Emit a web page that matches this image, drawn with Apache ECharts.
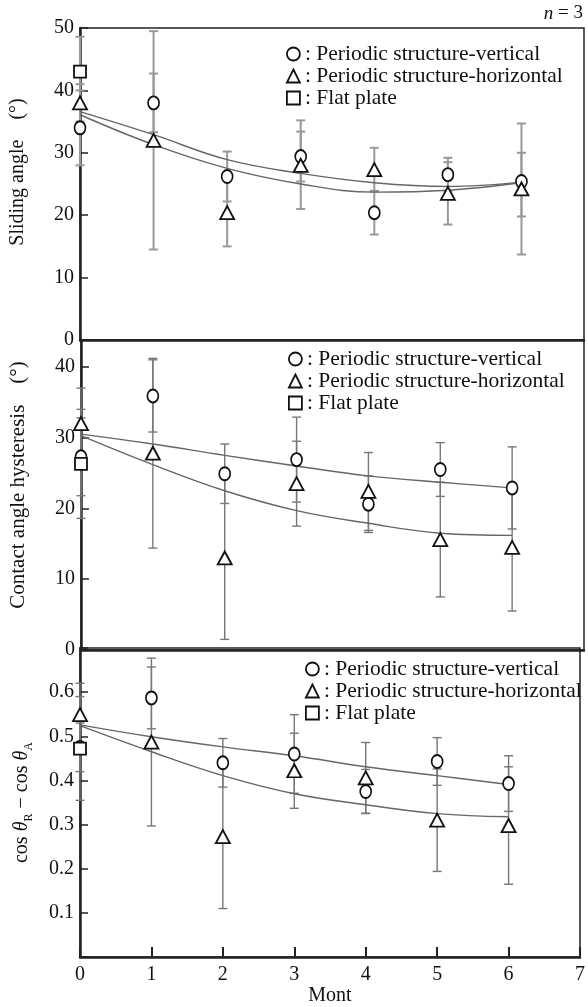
<!DOCTYPE html>
<html>
<head>
<meta charset="utf-8">
<script src="https://cdn.jsdelivr.net/npm/echarts@6/dist/echarts.min.js"></script>
<style>
  html, body { margin: 0; padding: 0; background: #fff; }
  #main { width: 588px; height: 1007px; }
</style>
</head>
<body>
<div id="main"></div>
<script>
const serif = '"Liberation Serif", "DejaVu Serif", serif';

// x values (months)
const months = [0, 1, 2, 3, 4, 5, 6];
const xTickLabels = ['0', '1', '2', '3', '4', '5', '6', '7'];

// panel 1: sliding angle (deg)
const slideVert = [34, 38, 26.2, 29.4, 20.4, 26.5, 25.4];
const slideVertLo = [28, 33.3, 22.2, 25.4, 16.9, 23.8, 19.8];
const slideVertHi = [40, 42.7, 30.2, 33.4, 23.9, 29.2, 30.0];
const slideHori = [38, 32, 20.4, 28, 27.3, 23.5, 24.2];
const slideHoriLo = [35, 14.5, 15, 21, 23.8, 18.5, 13.7];
const slideHoriHi = [41, 49.5, 25.8, 35.2, 30.8, 28.5, 34.7];
const slideFlat = [43];
const slideFlatLo = [37.4];
const slideFlatHi = [48.6];
const slideFitA = [36.6, 32.9, 28.9, 26.7, 25.2, 24.6, 25.3];
const slideFitB = [36.1, 31.3, 27.5, 25.0, 23.7, 24.0, 25.2];

// panel 2: contact angle hysteresis (deg)
const hystVert = [27.3, 35.9, 24.9, 26.9, 20.6, 25.5, 22.9];
const hystVertLo = [21.8, 30.8, 20.7, 20.9, 16.6, 21.7, 17.1];
const hystVertHi = [32.8, 41.0, 29.1, 32.9, 24.6, 29.3, 28.7];
const hystHori = [32, 27.8, 13, 23.5, 22.4, 15.6, 14.5];
const hystHoriLo = [27, 14.4, 1.5, 17.5, 16.9, 7.5, 5.5];
const hystHoriHi = [37, 41.2, 24.5, 29.5, 27.9, 23.7, 23.5];
const hystFlat = [26.3];
const hystFlatLo = [18.6];
const hystFlatHi = [34.0];
const hystFitA = [30.5, 29.1, 27.5, 26.0, 24.6, 23.7, 22.9];
const hystFitB = [30.3, 26.2, 22.5, 19.7, 17.9, 16.5, 16.2];

// panel 3: cos(theta_R) - cos(theta_A)
const cosVert = [0.475, 0.587, 0.44, 0.46, 0.375, 0.443, 0.393];
const cosVertLo = [0.42, 0.517, 0.385, 0.371, 0.325, 0.389, 0.33];
const cosVertHi = [0.53, 0.657, 0.495, 0.549, 0.425, 0.497, 0.456];
const cosHori = [0.549, 0.487, 0.273, 0.422, 0.406, 0.31, 0.298];
const cosHoriLo = [0.48, 0.297, 0.11, 0.337, 0.326, 0.194, 0.165];
const cosHoriHi = [0.62, 0.677, 0.436, 0.507, 0.486, 0.426, 0.431];
const cosFlat = [0.472];
const cosFlatLo = [0.355];
const cosFlatHi = [0.59];
const cosFitA = [0.526, 0.499, 0.476, 0.456, 0.431, 0.411, 0.391];
const cosFitB = [0.524, 0.465, 0.411, 0.370, 0.345, 0.325, 0.318];

const NAME_V = 'Periodic structure-vertical';
const NAME_H = 'Periodic structure-horizontal';
const NAME_F = 'Flat plate';

const pair = (vals) => vals.map((v, i) => [months[i], v]);

// vertical error bar with caps, drawn through the axis scale
function errorBars(idx, lo, hi, color, width) {
  return {
    type: 'custom',
    xAxisIndex: idx,
    yAxisIndex: idx,
    silent: true,
    z: 1,
    encode: { x: 0, y: [1, 2] },
    data: lo.map((l, i) => [months[i], l, hi[i]]),
    renderItem: (params, api) => {
      const x = api.value(0);
      const top = api.coord([x, api.value(2)]);
      const bot = api.coord([x, api.value(1)]);
      const hw = 4.5;
      const style = { stroke: color, lineWidth: width };
      return {
        type: 'group',
        children: [
          { type: 'line', shape: { x1: top[0], y1: top[1], x2: bot[0], y2: bot[1] }, style },
          { type: 'line', shape: { x1: top[0] - hw, y1: top[1], x2: top[0] + hw, y2: top[1] }, style },
          { type: 'line', shape: { x1: bot[0] - hw, y1: bot[1], x2: bot[0] + hw, y2: bot[1] }, style }
        ]
      };
    }
  };
}

function fitLine(idx, vals, color, width) {
  return {
    type: 'line',
    name: 'fit',
    xAxisIndex: idx,
    yAxisIndex: idx,
    data: pair(vals),
    smooth: 0.4,
    symbol: 'none',
    silent: true,
    z: 2,
    lineStyle: { color: color, width: width }
  };
}

function markers(idx, name, vals, symbol, size) {
  return {
    type: 'scatter',
    name: name,
    xAxisIndex: idx,
    yAxisIndex: idx,
    data: pair(vals),
    symbol: symbol,
    symbolSize: size,
    clip: false,
    z: 5,
    itemStyle: { color: '#fff', borderColor: '#111', borderWidth: 1.8, opacity: 1 }
  };
}

function panelSeries(idx, d, barColor, barWidth, lineColor) {
  return [
    errorBars(idx, d.vLo, d.vHi, barColor, barWidth),
    errorBars(idx, d.hLo, d.hHi, barColor, barWidth),
    errorBars(idx, d.fLo, d.fHi, barColor, barWidth),
    fitLine(idx, d.fitA, lineColor, 1.4),
    fitLine(idx, d.fitB, lineColor, 1.4),
    markers(idx, NAME_V, d.v, 'circle', [11, 13]),
    markers(idx, NAME_H, d.h, 'triangle', [14, 13]),
    markers(idx, NAME_F, d.f, 'rect', 12)
  ];
}

const legendData = [
  { name: NAME_V, icon: 'circle' },
  { name: NAME_H, icon: 'triangle' },
  { name: NAME_F, icon: 'rect' }
];

function legendAt(left, top) {
  return {
    data: legendData,
    orient: 'vertical',
    left: left,
    top: top,
    itemWidth: 13,
    itemHeight: 13,
    itemGap: 0,
    selectedMode: false,
    formatter: (name) => ': ' + name,
    itemStyle: { color: '#fff', borderColor: '#111', borderWidth: 1.8 },
    textStyle: { fontFamily: serif, fontSize: 21.5, color: '#111', lineHeight: 20 }
  };
}

const axisLine = { show: true, lineStyle: { color: '#222', width: 2.5 } };
const labelStyle = { fontFamily: serif, fontSize: 20, color: '#111', margin: 6 };

function yAxis(gridIndex, min, max, interval, name, nameGap, labelFmt, nameStyle) {
  return {
    type: 'value',
    gridIndex: gridIndex,
    min: min,
    max: max,
    interval: interval,
    name: name,
    nameLocation: 'middle',
    nameGap: nameGap,
    nameTextStyle: nameStyle,
    axisLine: axisLine,
    axisTick: { show: true, inside: true, length: 8, lineStyle: { color: '#222', width: 1.5 } },
    axisLabel: Object.assign({ formatter: labelFmt }, labelStyle),
    splitLine: { show: false }
  };
}

const chart = echarts.init(document.getElementById('main'));

const option = {
  backgroundColor: '#fff',
  animation: false,
  graphic: [
    {
      type: 'text',
      right: 5,
      top: 4,
      style: {
        text: '{i|n} = 3',
        fontFamily: serif,
        fontSize: 19,
        fill: '#111',
        rich: { i: { fontFamily: serif, fontSize: 19, fontStyle: 'italic' } }
      }
    }
  ],
  grid: [
    { left: 80, right: 4, top: 28, height: 312, show: true, borderColor: '#222', borderWidth: 1.5 },
    { left: 80, right: 4, top: 340, height: 310, show: true, borderColor: '#222', borderWidth: 1.5 },
    { left: 80, right: 4, top: 648, height: 312, show: true, borderColor: '#222', borderWidth: 1.5 }
  ],
  legend: [legendAt(281, 38), legendAt(283, 343), legendAt(300, 653)],
  xAxis: [
    { type: 'value', gridIndex: 0, min: 0, max: 6.85, axisLine: axisLine, axisTick: { show: false }, axisLabel: { show: false }, splitLine: { show: false } },
    { type: 'value', gridIndex: 1, min: 0, max: 7, axisLine: axisLine, axisTick: { show: false }, axisLabel: { show: false }, splitLine: { show: false } },
    {
      type: 'value', gridIndex: 2, min: 0, max: 7, interval: 1,
      name: 'Mont', nameLocation: 'middle', nameGap: 26,
      nameTextStyle: { fontFamily: serif, fontSize: 20, color: '#111', verticalAlign: 'top' },
      axisLine: axisLine,
      axisTick: { show: true, inside: true, length: 10, lineStyle: { color: '#222', width: 2 } },
      axisLabel: { fontFamily: serif, fontSize: 20, color: '#111', margin: 8, formatter: (v) => xTickLabels[Math.round(v)] },
      splitLine: { show: false }
    }
  ],
  yAxis: [
    yAxis(0, 0, 50, 10, 'Sliding angle    (°)', 52, (v) => String(v),
      { fontFamily: serif, fontSize: 20, color: '#111', padding: [0, 0, 0, 24] }),
    yAxis(1, 0, 43.8, 10, 'Contact angle hysteresis    (°)', 52, (v) => (v % 10 === 0 ? String(v) : ''),
      { fontFamily: serif, fontSize: 21, color: '#111', padding: [0, 0, 0, 20] }),
    yAxis(2, 0, 0.7, 0.1, '{t|cos }{it|θ}{s|R}{t| − cos }{it|θ}{s|A}', 45,
      (v) => (v > 0.05 && v < 0.65 ? v.toFixed(1) : ''),
      {
        color: '#111',
        rich: {
          t: { fontFamily: serif, fontSize: 20, color: '#111', lineHeight: 26 },
          it: { fontFamily: serif, fontSize: 20, color: '#111', fontStyle: 'italic', lineHeight: 26 },
          s: { fontFamily: serif, fontSize: 12, color: '#111', lineHeight: 14, verticalAlign: 'bottom' }
        }
      })
  ],
  series: [].concat(
    panelSeries(0, {
      v: slideVert, vLo: slideVertLo, vHi: slideVertHi,
      h: slideHori, hLo: slideHoriLo, hHi: slideHoriHi,
      f: slideFlat, fLo: slideFlatLo, fHi: slideFlatHi,
      fitA: slideFitA, fitB: slideFitB
    }, '#999', 2, '#666'),
    panelSeries(1, {
      v: hystVert, vLo: hystVertLo, vHi: hystVertHi,
      h: hystHori, hLo: hystHoriLo, hHi: hystHoriHi,
      f: hystFlat, fLo: hystFlatLo, fHi: hystFlatHi,
      fitA: hystFitA, fitB: hystFitB
    }, '#777', 1.4, '#666'),
    panelSeries(2, {
      v: cosVert, vLo: cosVertLo, vHi: cosVertHi,
      h: cosHori, hLo: cosHoriLo, hHi: cosHoriHi,
      f: cosFlat, fLo: cosFlatLo, fHi: cosFlatHi,
      fitA: cosFitA, fitB: cosFitB
    }, '#777', 1.4, '#666')
  )
};

chart.setOption(option);
</script>
</body>
</html>
